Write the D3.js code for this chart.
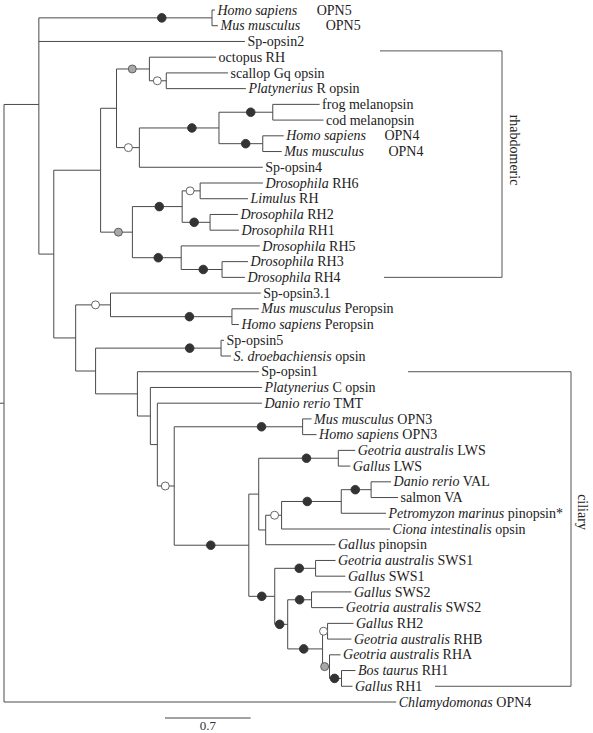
<!DOCTYPE html>
<html>
<head>
<meta charset="utf-8">
<script src="https://cdn.jsdelivr.net/npm/d3@7/dist/d3.min.js"></script>
<style>
  html, body { margin: 0; padding: 0; background: #fff; }
  svg { display: block; font-family: "Liberation Serif", "Times New Roman", serif; }
</style>
</head>
<body>
<svg id="chart" width="593" height="733"></svg>
<script>
// ---------------- DATA ----------------
// Tree topology with branch lengths (substitutions/site), Newick format
const treeNewick =
 "(((Homo_sapiens_OPN5:0.024,Mus_musculus_OPN5:0.049)nOPN5:1.416,Sp-opsin2:1.685," +
 "((((octopus_RH:0.545,(scallop_Gq_opsin:0.505,Platynerius_R_opsin:0.651)nI:0.138)nG:0.269," +
 "(((frog_melanopsin:0.383,cod_melanopsin:0.415)nK:0.440,(Homo_sapiens_OPN4:0.171,Mus_musculus_OPN4:0.155)nL:0.358)nJ:0.651," +
 "Sp-opsin4:1.009)nH:0.187)nE:0.130," +
 "(((Drosophila_RH6:0.513,Limulus_RH:0.391)nO:0.147,(Drosophila_RH2:0.228,Drosophila_RH1:0.236)nP:0.228)nM:0.407," +
 "(Drosophila_RH5:0.643,(Drosophila_RH3:0.212,Drosophila_RH4:0.187)nQ:0.334)nN:0.399)nF:0.260)nC:0.383," +
 "((Sp-opsin3.1:1.229,(Mus_musculus_Peropsin:0.220,Homo_sapiens_Peropsin:0.057)nU:0.993)nS:0.285," +
 "((Sp-opsin5:0.024,S._droebachiensis_opsin:0.081)nV:1.026," +
 "(Sp-opsin1:0.993,(Platynerius_C_opsin:0.912,(Danio_rerio_TMT:0.855," +
 "((Mus_musculus_OPN3:0.073,Homo_sapiens_OPN3:0.114)nAA:1.050," +
 "(((Geotria_australis_LWS:0.138,Gallus_LWS:0.098)nAE:0.651," +
 "((((Danio_rerio_VAL:0.163,salmon_VA:0.220)nAI:0.244,Petromyzon_marinus_pinopsin*:0.366)nAH:0.488," +
 "Ciona_intestinalis_opsin:0.887)nAG:0.130,Gallus_pinopsin:0.570)nAF:0.057)nAC:0.081," +
 "((Geotria_australis_SWS1:0.163,Gallus_SWS1:0.244)nAJ:0.334," +
 "((Gallus_SWS2:0.326,Geotria_australis_SWS2:0.260)nAL:0.195," +
 "((Gallus_RH2:0.212,Geotria_australis_RHB:0.195)nAN:0.041," +
 "(Geotria_australis_RHA:0.090,(Bos_taurus_RH1:0.114,Gallus_RH1:0.090)nAP:0.098)nAO:0.057)nAM:0.285)nAK:0.106)nAD:0.212)nAB:0.610)nZ:0.138)nY:0.057)nX:0.106)nW:0.342)nT:0.163)nD:0.179)nB:0.122)nA:0.285," +
 "Chlamydomonas_OPN4:3.207)root;";

// Node support symbols: branch (by child node), type, relative position along branch
const supportNodes = ["nOPN5","nG","nI","nH","nJ","nK","nL","nF","nM","nO","nP","nN","nQ",
  "nS","nU","nV","nZ","nAA","nAB","nAE","nAG","nAH","nAI","nAD","nAJ","nAK","nAL","nAM","nAN","nAO","nAP"];
const supportTypes = ["black","grey","open","open","black","black","black","grey","black","open","black","black","black",
  "open","black","black","open","black","black","black","open","black","black","black","black","black","black","black","open","grey","black"];
const supportPos = [0.71,0.48,0.47,0.52,0.66,0.59,0.61,0.56,0.54,0.44,0.43,0.53,0.54,
  0.57,0.65,0.75,0.47,0.68,0.49,0.6,0.56,0.43,0.47,0.5,0.6,0.38,0.5,0.46,0.2,0.3,0.42];

// Italic (taxon) prefixes of leaf labels
const italicNames = ["Homo sapiens","Mus musculus","Platynerius","Drosophila","Limulus","S. droebachiensis",
  "Danio rerio","Geotria australis","Gallus","Petromyzon marinus","Ciona intestinalis","Bos taurus","Chlamydomonas"];

// Clade brackets (leaf index spans)
const cladeNames = ["rhabdomeric","ciliary"];
const cladeStart = [2.6, 23];
const cladeEnd = [17, 43];

const scaleBarValue = 0.7;

// ---------------- PARSE ----------------
function parseNewick(s) {
  const ancestors = [];
  let tree = {};
  const tokens = s.split(/\s*(;|\(|\)|,|:)\s*/);
  for (let i = 0; i < tokens.length; i++) {
    const t = tokens[i];
    if (t === "") continue;
    switch (t) {
      case "(": { const sub = {}; tree.children = [sub]; ancestors.push(tree); tree = sub; break; }
      case ",": { const sub = {}; ancestors[ancestors.length - 1].children.push(sub); tree = sub; break; }
      case ")": tree = ancestors.pop(); break;
      case ":": break;
      case ";": break;
      default: {
        const p = tokens[i - 1];
        if (p === ":") tree.length = parseFloat(t);
        else tree.name = t.replace(/_/g, " ");
      }
    }
  }
  return tree;
}

const root = d3.hierarchy(parseNewick(treeNewick));
root.eachBefore(d => { d.len = d.parent ? d.parent.len + (d.data.length || 0) : 0; });
const leaves = root.leaves();
leaves.forEach((d, i) => d.idx = i);
root.eachAfter(d => { if (d.children) d.idx = d3.mean(d.children, c => c.idx); });

// ---------------- SCALES ----------------
const maxLen = d3.max(leaves, d => d.len);
const xScale = d3.scaleLinear().domain([0, maxLen]).range([4, 398]);
const yScale = d3.scaleLinear().domain([0, leaves.length - 1]).range([10, 702]);

const svg = d3.select("#chart");
const lineColor = "#4a4a4a";
const g = svg.append("g");

// horizontal branches
const nodes = root.descendants();
g.selectAll("path.h").data(nodes.filter(d => d.parent)).join("path")
  .attr("class", "h")
  .attr("d", d => `M${xScale(d.parent.len)},${yScale(d.idx)}H${xScale(d.len)}`)
  .attr("stroke", lineColor).attr("stroke-width", 1).attr("fill", "none");
// vertical connectors
g.selectAll("path.v").data(nodes.filter(d => d.children)).join("path")
  .attr("class", "v")
  .attr("d", d => {
    const ys = d.children.map(c => yScale(c.idx));
    return `M${xScale(d.len)},${d3.min(ys)}V${d3.max(ys)}`;
  })
  .attr("stroke", lineColor).attr("stroke-width", 1).attr("fill", "none");
// root stub
g.append("path").attr("d", `M0,${yScale(root.idx)}H${xScale(0)}`)
  .attr("stroke", lineColor).attr("stroke-width", 1);

// support circles
const byName = new Map(nodes.map(d => [d.data.name, d]));
const supports = supportNodes.map((n, i) => ({ node: byName.get(n), type: supportTypes[i], pos: supportPos[i] }));
g.selectAll("circle.sup").data(supports).join("circle")
  .attr("class", "sup")
  .attr("cx", d => xScale(d.node.parent.len + (d.node.len - d.node.parent.len) * d.pos))
  .attr("cy", d => yScale(d.node.idx))
  .attr("r", d => d.type === "black" ? 4.3 : 4)
  .attr("fill", d => d.type === "black" ? "#333" : d.type === "grey" ? "#a8a8a8" : "#fff")
  .attr("stroke", d => d.type === "black" ? "#333" : "#555")
  .attr("stroke-width", 0.9);

// leaf labels
const extraGap = { "Homo sapiens OPN5": 16, "Mus musculus OPN5": 22, "Homo sapiens OPN4": 15, "Mus musculus OPN4": 21 };
const labels = g.selectAll("text.leaf").data(leaves).join("text")
  .attr("class", "leaf")
  .attr("x", d => xScale(d.len) + 2.5)
  .attr("y", d => yScale(d.idx))
  .attr("dy", "0.33em")
  .attr("font-size", 14)
  .attr("fill", "#222");
labels.each(function (d) {
  const name = d.data.name;
  const t = d3.select(this);
  const it = italicNames.find(p => name.startsWith(p + " ") || name === p);
  if (it) {
    t.append("tspan").attr("font-style", "italic").text(it);
    const rest = name.slice(it.length);
    if (rest.length) {
      t.append("tspan").attr("dx", extraGap[name] || 0).text(rest);
    }
  } else {
    t.text(name);
  }
});

// clade brackets
const bracketX = [502, 571];
const bracketTopStart = [380, 408];
const bracketBotStart = [384, 435];
const labelX = [515, 583];
const labelY = [150, 512];
cladeNames.forEach((name, i) => {
  const y0 = yScale(cladeStart[i]), y1 = yScale(cladeEnd[i]);
  g.append("path")
    .attr("d", `M${bracketTopStart[i]},${y0}H${bracketX[i]}V${y1}H${bracketBotStart[i]}`)
    .attr("fill", "none").attr("stroke", "#555").attr("stroke-width", 1);
  g.append("text")
    .attr("transform", `translate(${labelX[i]},${labelY[i]}) rotate(90)`)
    .attr("text-anchor", "middle").attr("dy", "0.33em")
    .attr("font-size", 14).attr("fill", "#222")
    .text(name);
});

// scale bar
const sbX = 165, sbY = 718;
const sbW = xScale(scaleBarValue) - xScale(0);
g.append("path").attr("d", `M${sbX},${sbY}H${sbX + sbW}`).attr("stroke", "#444").attr("stroke-width", 1);
g.append("text").attr("x", sbX + sbW / 2).attr("y", 730).attr("text-anchor", "middle")
  .attr("font-size", 13).attr("fill", "#333").text(String(scaleBarValue));
</script>
</body>
</html>
